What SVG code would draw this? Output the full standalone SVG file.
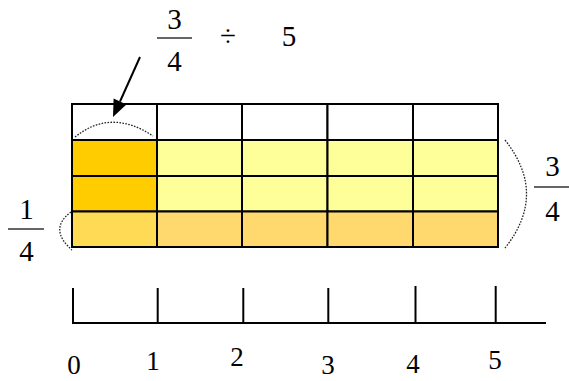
<svg xmlns="http://www.w3.org/2000/svg" width="569" height="381" viewBox="0 0 569 381">
<defs>
<style>
text{font-family:'Liberation Serif','DejaVu Serif',serif;fill:#000;text-anchor:middle}
.frac{font-size:29px}
.num{font-size:27px}
.cell{stroke:#000;stroke-width:2}
.dot{fill:none;stroke:#222;stroke-width:1.3;stroke-dasharray:1.6 1.4}
.bar{stroke:#333;stroke-width:1.5}
.ln{stroke:#000;stroke-width:2;fill:none}
</style>
</defs>
<rect width="569" height="381" fill="#fff"/>

<g id="grid">
<rect class="cell" x="72" y="104" width="85" height="36" fill="#fff"/>
<rect class="cell" x="157" y="104" width="85" height="36" fill="#fff"/>
<rect class="cell" x="242" y="104" width="85.5" height="36" fill="#fff"/>
<rect class="cell" x="327.5" y="104" width="85.5" height="36" fill="#fff"/>
<rect class="cell" x="413" y="104" width="85" height="36" fill="#fff"/>

<rect class="cell" x="72" y="140" width="85" height="36" fill="#FFCC00"/>
<rect class="cell" x="157" y="140" width="85" height="36" fill="#FFFF99"/>
<rect class="cell" x="242" y="140" width="85.5" height="36" fill="#FFFF99"/>
<rect class="cell" x="327.5" y="140" width="85.5" height="36" fill="#FFFF99"/>
<rect class="cell" x="413" y="140" width="85" height="36" fill="#FFFF99"/>

<rect class="cell" x="72" y="176" width="85" height="35.5" fill="#FFCC00"/>
<rect class="cell" x="157" y="176" width="85" height="35.5" fill="#FFFF99"/>
<rect class="cell" x="242" y="176" width="85.5" height="35.5" fill="#FFFF99"/>
<rect class="cell" x="327.5" y="176" width="85.5" height="35.5" fill="#FFFF99"/>
<rect class="cell" x="413" y="176" width="85" height="35.5" fill="#FFFF99"/>

<rect class="cell" x="72" y="211.5" width="85" height="35.5" fill="#FFDA55"/>
<rect class="cell" x="157" y="211.5" width="85" height="35.5" fill="#FFD86E"/>
<rect class="cell" x="242" y="211.5" width="85.5" height="35.5" fill="#FFD86E"/>
<rect class="cell" x="327.5" y="211.5" width="85.5" height="35.5" fill="#FFD86E"/>
<rect class="cell" x="413" y="211.5" width="85" height="35.5" fill="#FFD86E"/>
</g>

<g id="braces">
<path class="dot" d="M75,137 Q111,108 153,136"/>
<path class="dot" d="M71,212 Q48,229 72,250"/>
<path class="dot" d="M505,140 Q548,194 505,248"/>
</g>

<g id="title">
<text class="frac" x="174.5" y="29">3</text>
<line class="bar" x1="157" y1="38" x2="192" y2="38"/>
<text class="frac" x="174.5" y="71">4</text>
<text class="frac" x="228" y="46">÷</text>
<text class="frac" x="289" y="46">5</text>
</g>

<g id="left-frac">
<text class="frac" x="26.5" y="219">1</text>
<line class="bar" x1="8" y1="229" x2="44" y2="229"/>
<text class="frac" x="26.5" y="261">4</text>
</g>

<g id="right-frac">
<text class="frac" x="552.5" y="176">3</text>
<line class="bar" x1="534" y1="187" x2="569" y2="187"/>
<text class="frac" x="552.5" y="221">4</text>
</g>

<g id="connectors">
<line class="ln" x1="140" y1="57" x2="120" y2="101.5"/>
<polygon points="113,117 126.4,104.4 113.6,98.6" fill="#000"/>
</g>

<g id="numberline">
<line class="ln" x1="72" y1="323" x2="546" y2="323"/>
<line class="ln" x1="73" y1="288" x2="73" y2="323"/>
<line class="ln" x1="157.7" y1="288" x2="157.7" y2="323"/>
<line class="ln" x1="243.3" y1="288" x2="243.3" y2="323"/>
<line class="ln" x1="328.3" y1="288" x2="328.3" y2="323"/>
<line class="ln" x1="415.5" y1="286" x2="415.5" y2="323"/>
<line class="ln" x1="495.7" y1="286" x2="495.7" y2="323"/>
<text class="num" x="74" y="374">0</text>
<text class="num" x="153" y="370">1</text>
<text class="num" x="237" y="366">2</text>
<text class="num" x="328" y="374">3</text>
<text class="num" x="413" y="373">4</text>
<text class="num" x="495" y="369">5</text>
</g>
</svg>
